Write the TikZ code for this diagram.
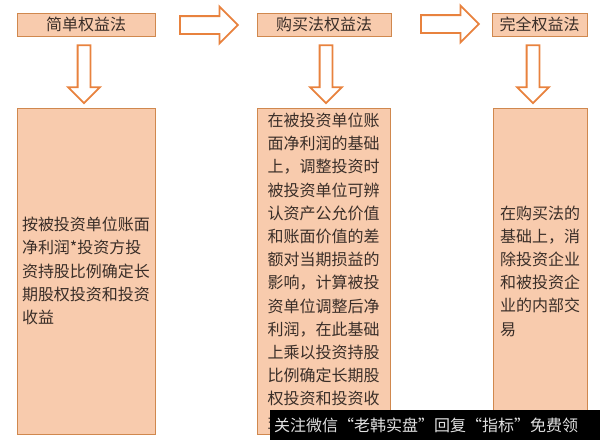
\documentclass[tikz,border=0pt]{standalone}
\usepackage{fontspec}
\newfontfamily\cjk{Noto Sans CJK SC}
\usepackage{xcolor}
\usetikzlibrary{positioning, shapes.arrows}
\definecolor{boxfill}{HTML}{F8CBAD}
\definecolor{boxline}{HTML}{D0884E}
\definecolor{arrline}{HTML}{E8823E}
\definecolor{txt}{HTML}{3A2E28}

\begin{document}
\begin{tikzpicture}[
    x=1pt, y=-1pt,
    title/.style={draw=boxline, fill=boxfill, line width=0.8pt, minimum height=23pt, inner sep=0pt, text=txt, font=\cjk\fontsize{16}{20}\selectfont},
    detail/.style={draw=boxline, fill=boxfill, line width=0.8pt, minimum height=326pt, inner sep=0pt, align=left, text=txt, font=\cjk\fontsize{16}{23.2}\selectfont},
    rarr/.style={single arrow, draw=arrline, fill=white, line width=1.8pt, minimum width=0pt, inner xsep=0pt, inner ysep=8pt, single arrow head extend=9.5pt, minimum height=58pt},
    darr/.style={rarr, inner ysep=0pt, inner xsep=5.5pt, single arrow head extend=9.5pt, shape border rotate=270},
]
\useasboundingbox (0,0) rectangle (600,440);

% method titles
\node[title, minimum width=138pt] (t1) at (86, 24.5) {简单权益法};
\node[title, minimum width=134pt] (t2) at (324, 24.5) {购买法权益法};
\node[title, minimum width=95pt] (t3) at (539.5, 24.5) {完全权益法};

% step arrows between titles
\node[rarr] (r1) at (204.5, 25) {};
\node[rarr] (r2) at (445.5, 24) {};

% arrows down to the details
\node[darr] (d1) at (84, 71) {};
\node[darr] (d2) at (326, 71) {};
\node[darr] (d3) at (533, 71) {};

% detail boxes
\node[detail, minimum width=138pt] (c1) at (86, 271) {%
按被投资单位账面\\净利润*投资方投\\资持股比例确定长\\期股权投资和投资\\收益};
\node[detail, minimum width=133pt] (c2) at (323.5, 271) {%
在被投资单位账\\面净利润的基础\\上，调整投资时\\被投资单位可辨\\认资产公允价值\\和账面价值的差\\额对当期损益的\\影响，计算被投\\资单位调整后净\\利润，在此基础\\上乘以投资持股\\比例确定长期股\\权投资和投资收\\益};
\node[detail, minimum width=94pt] (c3) at (540, 271) {%
在购买法的\\基础上，消\\除投资企业\\和被投资企\\业的内部交\\易};

% watermark strip
\node[fill=black, minimum width=330pt, minimum height=30pt, inner sep=0pt, text=white!88!black,
      font=\cjk\fontsize{16}{20}\selectfont, text width=322pt, align=left] (wm) at (435, 425)
      {关注微信“老韩实盘”回复“指标”免费领};
\end{tikzpicture}
\end{document}
